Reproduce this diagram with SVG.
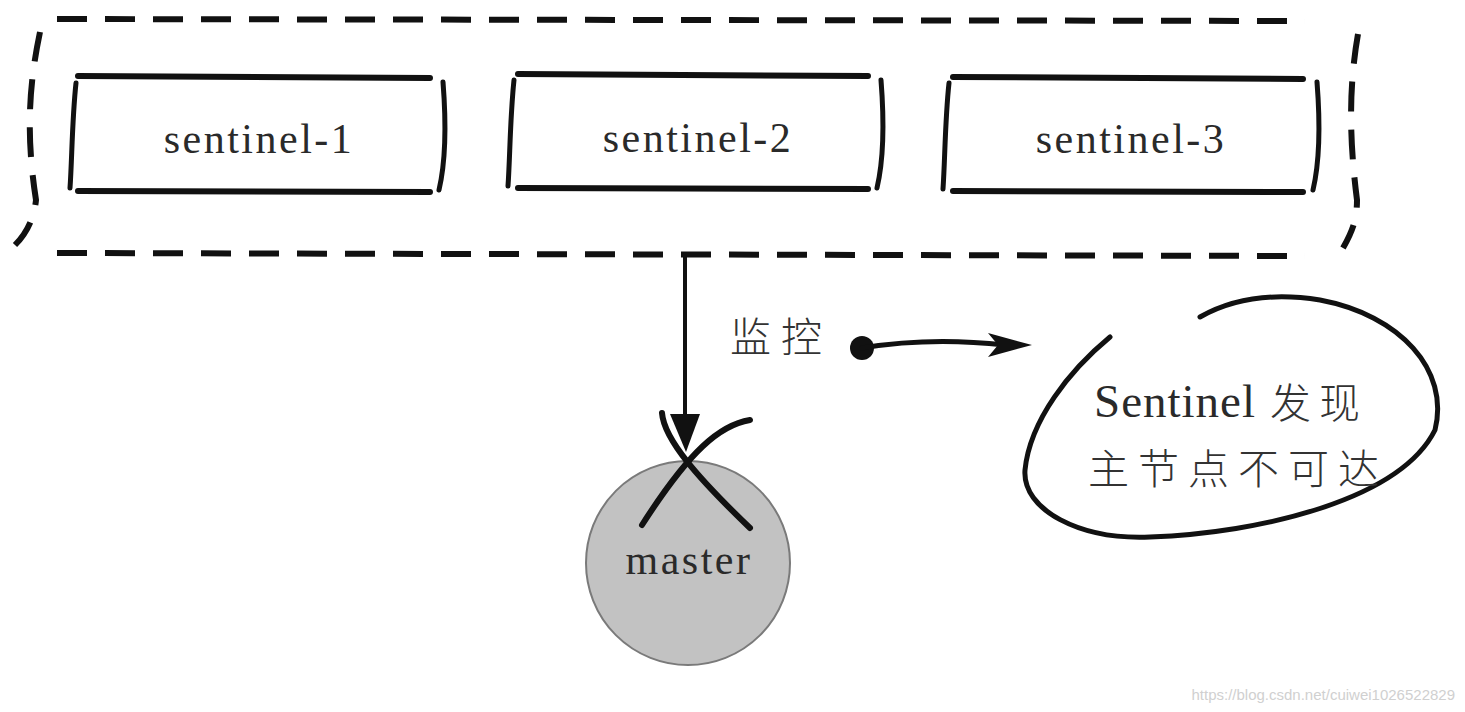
<svg xmlns="http://www.w3.org/2000/svg" width="1465" height="712" viewBox="0 0 1465 712">
<defs>
<style>
.ink{fill:none;stroke:#111;stroke-linecap:round;stroke-linejoin:round}
.dash{fill:none;stroke:#111;stroke-width:6;stroke-dasharray:30 18}
.lbl{font-family:"Liberation Serif","Noto Sans CJK SC",serif;font-size:42px;letter-spacing:2.5px;fill:#2a2a2a;text-anchor:middle}
.cjk{font-family:"Noto Sans CJK SC",sans-serif;font-size:41px;font-weight:300;fill:#333}
</style>
</defs>
<rect width="1465" height="712" fill="#fff"/>
<g id="sentinel-group">
<path class="dash" d="M57,19 L1305,21"/>
<path class="dash" d="M57,253 L1305,256"/>
<path class="dash" d="M40,32 C30,80 25,130 36,200 C34,220 25,235 15,245" stroke-dasharray="14 16 28 16 30 16 26 16 30 16"/>
<path class="dash" d="M1358,34 C1350,80 1348,130 1357,200 C1357,220 1352,232 1343,248" stroke-dasharray="14 16 28 16 30 16 26 16 30 16"/>
</g>
<g id="sentinel-1">
<path class="ink" stroke-width="6" d="M78,76 L430,78"/>
<path class="ink" stroke-width="6" d="M78,191 L430,192"/>
<path class="ink" stroke-width="5" d="M76,83 C72,120 72,160 70,188"/>
<path class="ink" stroke-width="5" d="M443,82 C446,120 446,160 439,190"/>
<text class="lbl" x="259" y="153">sentinel-1</text>
</g>
<g id="sentinel-2">
<path class="ink" stroke-width="6" d="M518,74 L868,76"/>
<path class="ink" stroke-width="6" d="M518,188 L868,189"/>
<path class="ink" stroke-width="5" d="M514,80 C510,118 510,158 508,186"/>
<path class="ink" stroke-width="5" d="M881,80 C884,118 884,158 877,188"/>
<text class="lbl" x="698" y="152">sentinel-2</text>
</g>
<g id="sentinel-3">
<path class="ink" stroke-width="6" d="M953,77 L1303,79"/>
<path class="ink" stroke-width="6" d="M953,191 L1303,192"/>
<path class="ink" stroke-width="5" d="M949,83 C945,120 945,160 943,189"/>
<path class="ink" stroke-width="5" d="M1317,82 C1320,120 1320,160 1313,190"/>
<text class="lbl" x="1131" y="153">sentinel-3</text>
</g>
<g id="master">
<circle cx="688" cy="563" r="102" fill="#c2c2c2" stroke="#7a7a7a" stroke-width="2"/>
<text class="lbl" x="689" y="574">master</text>
<path class="ink" stroke-width="6" d="M662,413 C664,440 700,480 750,528"/>
<path class="ink" stroke-width="6" d="M750,420 C720,425 690,450 642,525"/>
</g>
<g id="bubble">
<path class="ink" stroke-width="5" d="M1110,337 C1070,370 1030,420 1025,470 C1022,510 1080,540 1150,537 C1260,533 1400,500 1435,430 C1450,370 1400,315 1320,300 C1270,292 1230,300 1200,317"/>
<text x="1094" y="417" font-family="Liberation Serif,serif" font-size="47" letter-spacing="1" fill="#2a2a2a">Sentinel</text>
<text class="cjk" x="1270" y="418" letter-spacing="8">发现</text>
<text class="cjk" x="1088" y="484" letter-spacing="9">主节点不可达</text>
</g>
<g id="connectors">
<path class="ink" stroke-width="4" d="M685,254 L685,418"/>
<path d="M670,414 L700,414 L686,452 z" fill="#111"/>
<circle cx="862" cy="348" r="12" fill="#111"/>
<path class="ink" stroke-width="5" d="M862,348 C910,340 960,340 1005,345"/>
<path d="M988,333 L1032,345 L988,357 L998,345 z" fill="#111"/>
<text class="cjk" x="730" y="352" letter-spacing="10">监控</text>
</g>
<text x="1455" y="700" text-anchor="end" font-family="Liberation Sans,sans-serif" font-size="15" fill="#d0d0d0">https://blog.csdn.net/cuiwei1026522829</text>
</svg>
